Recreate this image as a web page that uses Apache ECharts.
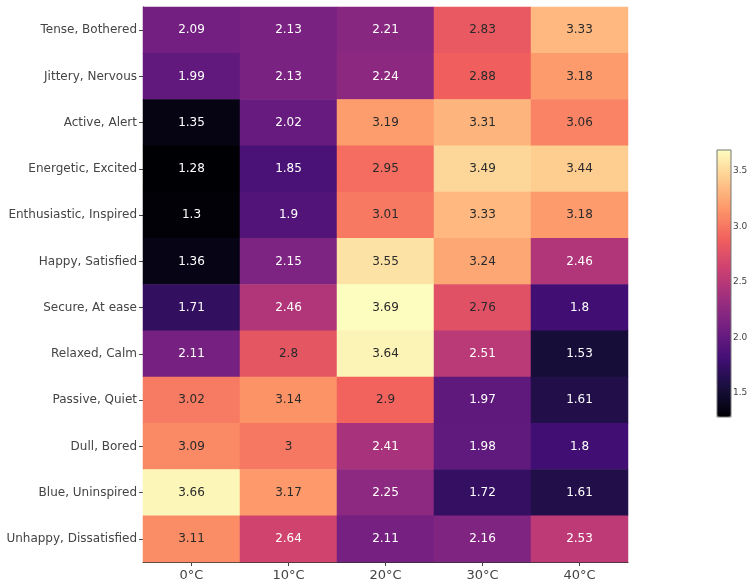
<!DOCTYPE html>
<html>
<head>
<meta charset="utf-8">
<script src="https://cdn.jsdelivr.net/npm/echarts@6/dist/echarts.min.js"></script>
<style>html,body{margin:0;padding:0;background:#fff;}#c{width:750px;height:585px;}</style>
</head>
<body>
<div id="c"></div>
<script>
const temperatures = ['0°C', '10°C', '20°C', '30°C', '40°C'];
const moods = ['Tense, Bothered', 'Jittery, Nervous', 'Active, Alert', 'Energetic, Excited',
  'Enthusiastic, Inspired', 'Happy, Satisfied', 'Secure, At ease', 'Relaxed, Calm',
  'Passive, Quiet', 'Dull, Bored', 'Blue, Uninspired', 'Unhappy, Dissatisfied'];
// values per temperature column, rows in the order of `moods`
const t0  = [2.09, 1.99, 1.35, 1.28, 1.3, 1.36, 1.71, 2.11, 3.02, 3.09, 3.66, 3.11];
const t10 = [2.13, 2.13, 2.02, 1.85, 1.9, 2.15, 2.46, 2.8, 3.14, 3, 3.17, 2.64];
const t20 = [2.21, 2.24, 3.19, 2.95, 3.01, 3.55, 3.69, 3.64, 2.9, 2.41, 2.25, 2.11];
const t30 = [2.83, 2.88, 3.31, 3.49, 3.33, 3.24, 2.76, 2.51, 1.97, 1.98, 1.72, 2.16];
const t40 = [3.33, 3.18, 3.06, 3.44, 3.18, 2.46, 1.8, 1.53, 1.61, 1.8, 1.61, 2.53];
const colorbarTicks = [1.5, 2.0, 2.5, 3.0, 3.5];
const magma = ['#000004', '#180f3d', '#440f76', '#721f81', '#9e2f7f', '#cd4071', '#f1605d', '#fd9668', '#feca8d', '#fcfdbf'];

const columns = [t0, t10, t20, t30, t40];
const all = columns.flat();
const vmin = Math.min(...all), vmax = Math.max(...all);
const data = [];
columns.forEach((col, xi) => {
  col.forEach((v, yi) => {
    data.push({
      value: [xi, yi, v],
      label: { color: v > 2.7 ? '#2a2a2a' : '#ffffff' }
    });
  });
});

const font = 'DejaVu Sans, Verdana, sans-serif';
const chart = echarts.init(document.getElementById('c'), null, { renderer: 'canvas' });
chart.setOption({
  backgroundColor: '#fff',
  animation: false,
  grid: [
    { left: 143, right: 122, top: 7, bottom: 23, outerBoundsMode: 'none', containLabel: false },
    { left: 717, width: 14, top: 150, height: 267, show: true, borderColor: '#777', borderWidth: 1, backgroundColor: 'transparent', z: 10, outerBoundsMode: 'none', containLabel: false }
  ],
  xAxis: [
    {
      type: 'category', data: temperatures, gridIndex: 0,
      axisLine: { show: true, lineStyle: { color: '#333', width: 1 } },
      axisTick: { show: true, alignWithLabel: true, length: 4, lineStyle: { color: '#444' } },
      axisLabel: { color: '#444', fontFamily: font, fontSize: 13, margin: 7 },
      splitLine: { show: false }
    },
    { type: 'value', gridIndex: 1, show: false, min: 0, max: 1 }
  ],
  yAxis: [
    {
      type: 'category', data: moods, gridIndex: 0, inverse: true,
      axisLine: { show: true, lineStyle: { color: '#333', width: 1 } },
      axisTick: { show: true, alignWithLabel: true, length: 4, lineStyle: { color: '#444' } },
      axisLabel: { color: '#444', fontFamily: font, fontSize: 12, margin: 6 },
      splitLine: { show: false }
    },
    {
      type: 'value', gridIndex: 1, position: 'right', min: vmin, max: vmax,
      axisLine: { show: false },
      axisTick: { show: true, inside: false, length: 2, customValues: colorbarTicks, lineStyle: { color: '#444' } },
      axisLabel: { show: true, customValues: colorbarTicks, color: '#444', fontFamily: font, fontSize: 9, margin: 2,
        formatter: v => Number(v).toFixed(1) },
      splitLine: { show: false }
    }
  ],
  visualMap: {
    type: 'continuous', min: vmin, max: vmax, seriesIndex: 0,
    calculable: false, show: true, left: 717, top: 150, itemWidth: 14, itemHeight: 267,
    text: null, showLabel: false, padding: 0,
    inRange: { color: magma }
  },
  series: [{
    type: 'heatmap', xAxisIndex: 0, yAxisIndex: 0, data: data,
    label: { show: true, fontFamily: font, fontSize: 12, formatter: p => String(p.value[2]) },
    itemStyle: { borderWidth: 0 },
    emphasis: { disabled: true }
  }]
});
</script>
</body>
</html>
